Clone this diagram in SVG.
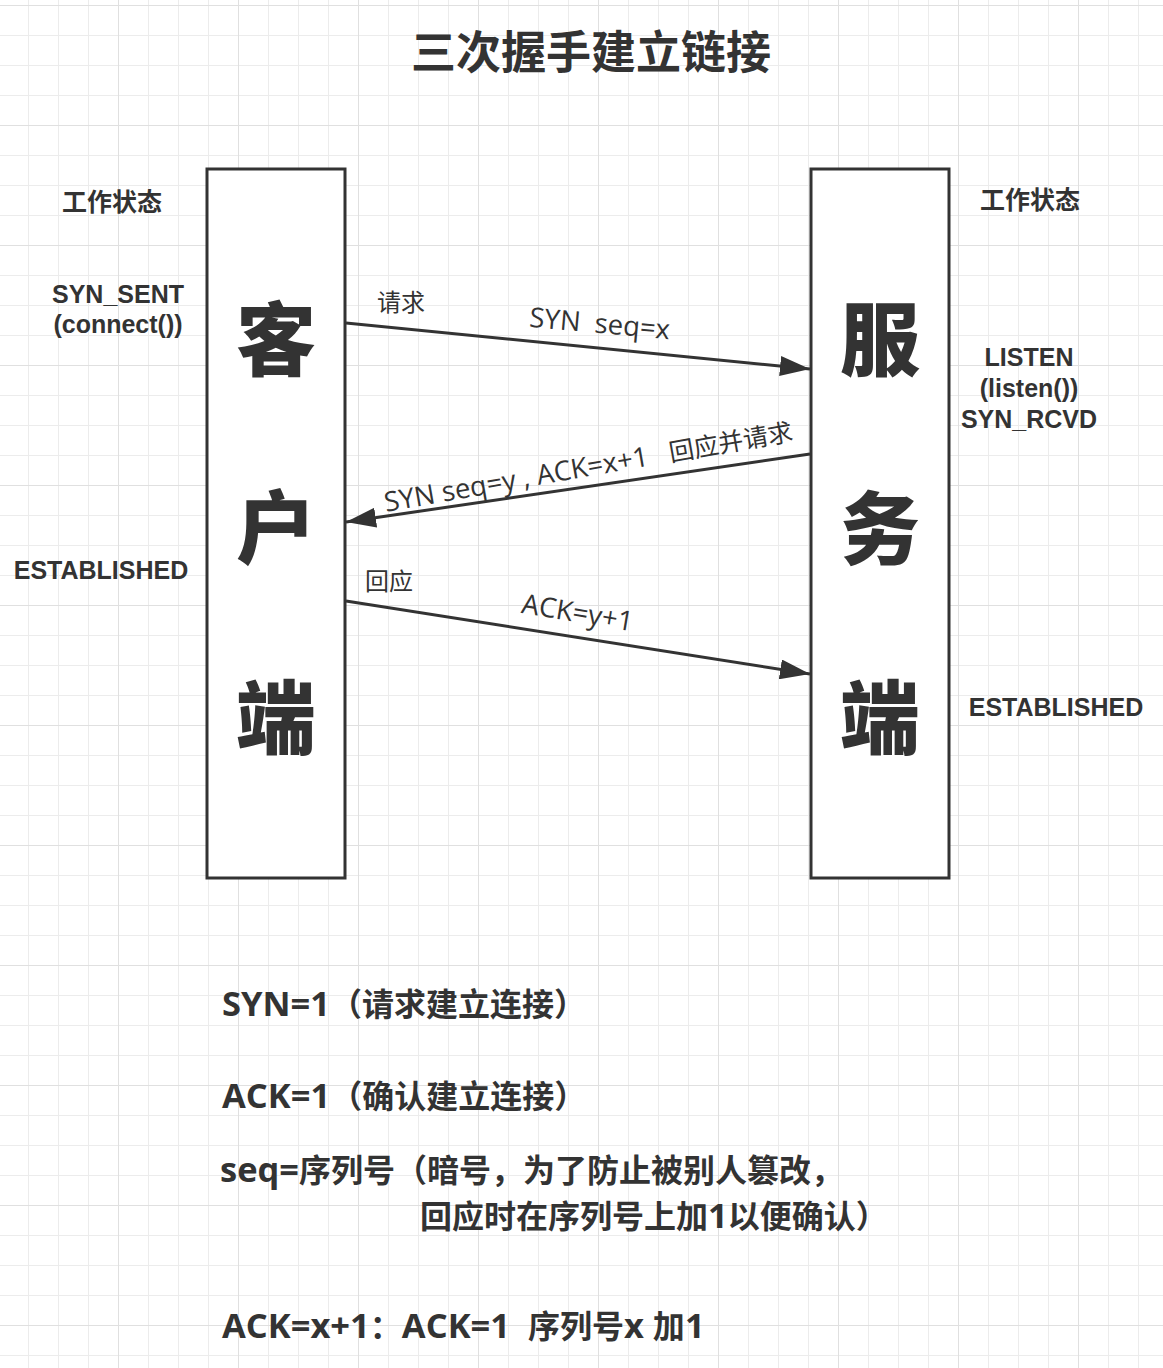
<svg xmlns="http://www.w3.org/2000/svg" width="1163" height="1368" viewBox="0 0 1163 1368">
<style>
.t{fill:#333;font-family:"Open Sans","Noto Sans CJK SC",sans-serif}
.s{fill:#333;font-family:"Liberation Sans",Arial,sans-serif;font-weight:bold;font-size:25px;text-anchor:middle}
.b{font-weight:bold}
.cjk{fill:#333;font-family:"Noto Sans CJK SC",sans-serif}
.box{fill:#fff;stroke:#333;stroke-width:3}
.big{font-size:80px;font-weight:900;text-anchor:middle}
.conn line{stroke:#333;stroke-width:3;fill:none}
.L{font-size:34.5px}
.c{font-size:25px}
</style>
<defs>
<pattern id="g" x="28" y="5" width="30" height="30" patternUnits="userSpaceOnUse"><rect width="30" height="1" fill="#ececec"/><rect width="1" height="30" fill="#ececec"/></pattern>
<pattern id="G" x="118" y="5" width="120" height="120" patternUnits="userSpaceOnUse"><rect width="120" height="1" fill="#e0e0e0"/><rect width="1" height="120" fill="#e0e0e0"/></pattern>
<marker id="ah" markerUnits="userSpaceOnUse" viewBox="0 0 30 20" markerWidth="30" markerHeight="20" refX="30" refY="10" orient="auto"><path d="M0,0 L30,10 L0,20 z" fill="#333"/></marker>
</defs>
<rect width="1163" height="1368" fill="#fff"/>
<rect width="1163" height="1368" fill="url(#g)"/>
<rect width="1163" height="1368" fill="url(#G)"/>

<text id="title" class="cjk b" x="591" y="69" font-size="45" text-anchor="middle">三次握手建立链接</text>

<g id="client">
<rect class="box" x="207" y="169" width="138" height="709"/>
<text class="cjk big" x="276" y="369">客</text>
<text class="cjk big" x="276" y="557">户</text>
<text class="cjk big" x="276" y="747">端</text>
</g>
<g id="server">
<rect class="box" x="811" y="169" width="138" height="709"/>
<text class="cjk big" x="880" y="369">服</text>
<text class="cjk big" x="880" y="558">务</text>
<text class="cjk big" x="880" y="747">端</text>
</g>

<g id="client-states">
<text class="cjk b" x="112" y="211" font-size="25" text-anchor="middle">工作状态</text>
<text class="s" x="118" y="303">SYN_SENT</text>
<text class="s" x="118" y="333">(connect())</text>
<text class="s" x="101" y="579">ESTABLISHED</text>
</g>
<g id="server-states">
<text class="cjk b" x="1030" y="209" font-size="25" text-anchor="middle">工作状态</text>
<text class="s" x="1029" y="366">LISTEN</text>
<text class="s" x="1029" y="397">(listen())</text>
<text class="s" x="1029" y="428">SYN_RCVD</text>
<text class="s" x="1056" y="716">ESTABLISHED</text>
</g>

<g id="connectors" class="conn">
<line x1="346" y1="323" x2="810" y2="369" marker-end="url(#ah)"/>
<line x1="810" y1="454" x2="346" y2="522" marker-end="url(#ah)"/>
<line x1="346" y1="601" x2="810" y2="674" marker-end="url(#ah)"/>
</g>

<g id="connector-labels" class="t" font-size="27.5">
<text class="cjk" x="401" y="311" font-size="24" text-anchor="middle">请求</text>
<text transform="translate(599,333) rotate(5)" text-anchor="middle" xml:space="preserve">SYN  seq=x</text>
<text transform="translate(590,476) rotate(-10)" text-anchor="middle" xml:space="preserve">SYN seq=y , ACK=x+1   <tspan class="c">回应并请求</tspan></text>
<text class="cjk" x="389" y="590" font-size="24" text-anchor="middle">回应</text>
<text transform="translate(576,622) rotate(9.5)" text-anchor="middle">ACK=y+1</text>
</g>

<g id="notes" class="t b" font-size="32">
<text x="222" y="1016"><tspan class="L">SYN=1</tspan>（请求建立连接）</text>
<text x="222" y="1108"><tspan class="L">ACK=1</tspan>（确认建立连接）</text>
<text x="220" y="1182"><tspan class="L">seq=</tspan>序列号（暗号，为了防止被别人篡改，</text>
<text x="420" y="1228">回应时在序列号上加<tspan class="L">1</tspan>以便确认）</text>
<text x="222" y="1338" xml:space="preserve"><tspan class="L">ACK=x+1</tspan>：<tspan class="L">ACK=1  </tspan>序列号<tspan class="L">x </tspan>加<tspan class="L">1</tspan></text>
</g>
</svg>
